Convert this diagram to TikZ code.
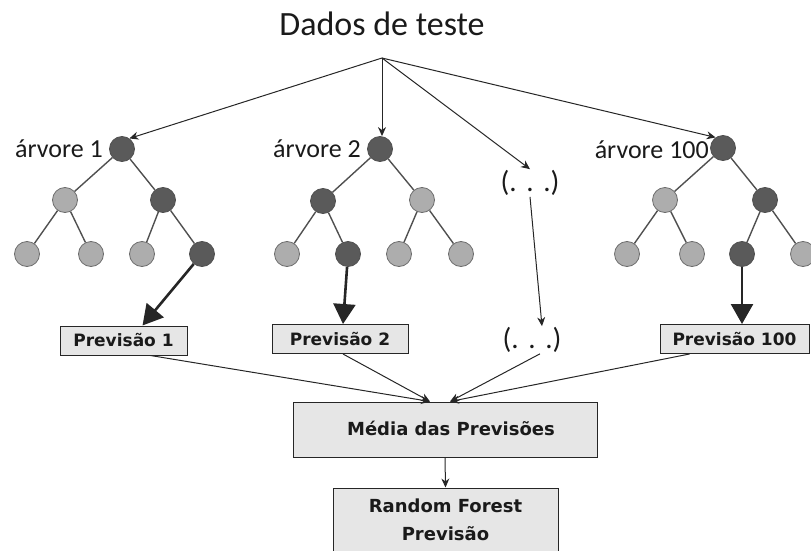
\documentclass[tikz,border=0pt]{standalone}
\usepackage{fontspec}
\setmainfont{Carlito}
\newfontfamily\boxfont{DejaVu Sans}
\usetikzlibrary{arrows.meta,calc}

\definecolor{darknode}{HTML}{5A5A5A}
\definecolor{lightnode}{HTML}{ADADAD}
\definecolor{nodeline}{HTML}{505050}
\definecolor{boxfill}{HTML}{E6E6E6}
\definecolor{inkline}{HTML}{262626}
\definecolor{inktext}{HTML}{1A1A1A}

\tikzset{
  dk/.style={circle, fill=darknode, draw=nodeline, line width=0.8pt, minimum size=25pt, inner sep=0pt},
  lt/.style={circle, fill=lightnode, draw=gray!85!black, line width=0.8pt, minimum size=25pt, inner sep=0pt},
  branch/.style={draw=nodeline, line width=1.4pt},
  feed/.style={-{Stealth[length=9pt,width=8pt]}, line width=1pt, draw=inkline},
  pick/.style={-{Triangle[length=20pt,width=22pt]}, line width=2.6pt, draw=inkline},
  treelabel/.style={font=\fontsize{26}{28}\selectfont, text=inktext, anchor=east, inner sep=0pt},
  dotslabel/.style={font=\fontsize{29}{30}\selectfont, text=inktext, inner sep=1pt},
  predbox/.style={draw=inkline, fill=boxfill, line width=1pt, inner sep=0pt,
    minimum height=29pt, text=inktext, font=\boxfont\bfseries\fontsize{17}{19}\selectfont},
  sumbox/.style={draw=inkline, fill=boxfill, line width=1pt, inner sep=0pt},
  sumtext/.style={text=inktext, inner sep=0pt, align=center,
    font=\boxfont\bfseries\fontsize{18}{28}\selectfont}
}

\begin{document}
\begin{tikzpicture}[x=1pt,y=-1pt]
\useasboundingbox (0,0) rectangle (811,551);

% heading and the point the data arrows leave from
\node[font=\fontsize{34}{36}\selectfont, text=inktext] (head) at (382,24) {Dados de teste};
\coordinate (src) at (382,58);

% tree 1
\node[dk] (r1) at (122,149) {};
\node[lt] (a1) at (65,200) {};
\node[dk] (b1) at (163,200) {};
\node[lt] (c1) at (27,254) {};
\node[lt] (d1) at (91,254) {};
\node[lt] (e1) at (142,254) {};
\node[dk] (f1) at (202,254) {};
% tree 2
\node[dk] (r2) at (380,149) {};
\node[dk] (a2) at (323,201) {};
\node[lt] (b2) at (422,200) {};
\node[lt] (c2) at (287,254) {};
\node[dk] (d2) at (348,254) {};
\node[lt] (e2) at (399,254) {};
\node[lt] (f2) at (461,254) {};
% tree 100
\node[dk] (r3) at (723,148) {};
\node[lt] (a3) at (665,200) {};
\node[dk] (b3) at (765,200) {};
\node[lt] (c3) at (627,254) {};
\node[lt] (d3) at (692,254) {};
\node[dk] (e3) at (742,254) {};
\node[lt] (f3) at (803,254) {};

% branches between the circles
\foreach \t in {1,2,3}{
  \draw[branch] (r\t) -- (a\t);
  \draw[branch] (r\t) -- (b\t);
  \draw[branch] (a\t) -- (c\t);
  \draw[branch] (a\t) -- (d\t);
  \draw[branch] (b\t) -- (e\t);
  \draw[branch] (b\t) -- (f\t);
}

% tree names
\node[treelabel] (n1) at (103,149) {árvore 1};
\node[treelabel] (n2) at (361,149) {árvore 2};
\node[treelabel] (n3) at (709,150) {árvore 100};

% the elided trees
\node[dotslabel] (dots1) at (530,183) {(.\,\,.\,\,.)};
\node[dotslabel] (dots2) at (532,340) {(.\,\,.\,\,.)};

% per-tree predictions
\node[predbox, minimum width=127pt] (p1) at (123.5,340.5) {Previsão 1};
\node[predbox, minimum width=136pt] (p2) at (340,339) {Previsão 2};
\node[predbox, minimum width=149pt] (p3) at (734.5,339) {Previsão 100};

% aggregation
\node[sumbox, minimum width=304pt, minimum height=55pt] (avg) at (445,429.5) {};
\node[sumtext] (avgtext) at (451,428) {Média das Previsões};
\node[sumbox, minimum width=225pt, minimum height=74pt] (rf) at (445.5,525) {};
\node[sumtext] (rftext) at (445.5,520) {Random Forest\\Previsão};

% data to every tree
\draw[feed] (src) -- (r1.55);
\draw[feed] (src) -- (r2.north -| src);
\draw[feed] (src) -- (dots1.north);
\draw[feed] (src) -- (r3.125);
\draw[feed] (dots1.south) -- ($(dots2.north)+(10,0)$);

% chosen leaf to its prediction
\draw[pick] (f1) -- ($(p1.north)+(19,0)$);
\draw[pick] (d2) -- ($(p2.north)+(3,0)$);
\draw[pick] (e3) -- ($(p3.north)+(7.5,0)$);

% predictions into the average
\coordinate (inL) at ($(avg.north)+(-15,0)$);
\coordinate (inR) at ($(avg.north)+(5,0)$);
\draw[feed] ($(p1.south)+(27,0)$) -- (inL);
\draw[feed] ($(p2.south)+(3,0)$) -- (inL);
\draw[feed] ($(dots2.south)+(8,0)$) -- (inR);
\draw[feed] ($(p3.south)+(-45,0)$) -- (inR);

% average to final result
\draw[feed] (avg.south) -- (rf.north);
\end{tikzpicture}
\end{document}
